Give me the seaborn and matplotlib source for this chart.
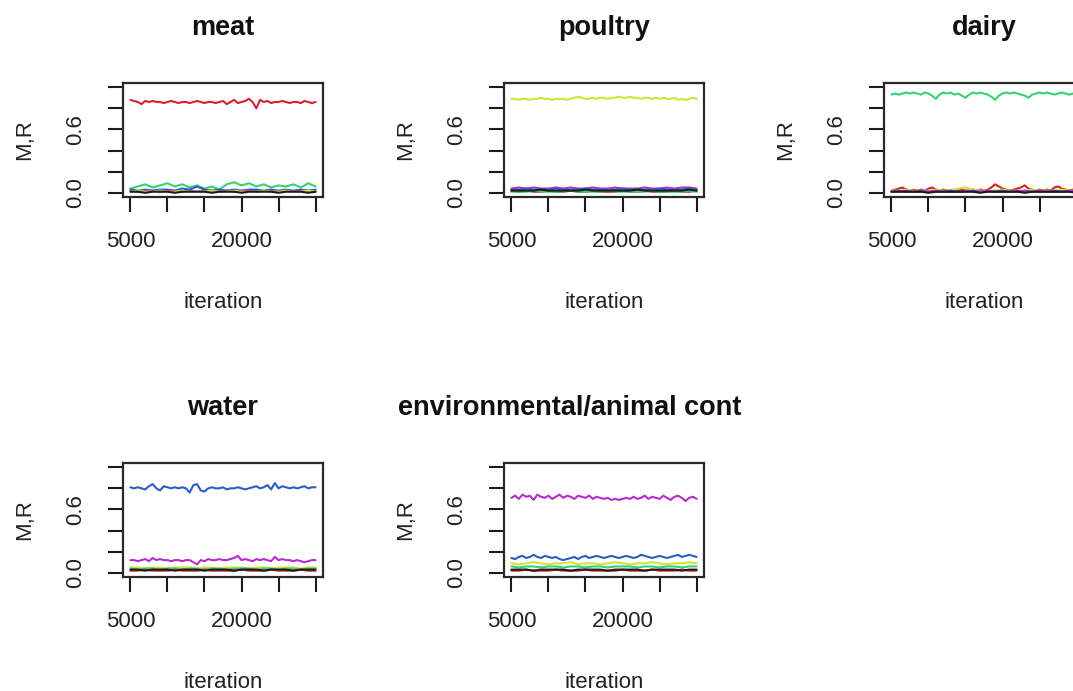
import matplotlib
matplotlib.use("Agg")
import matplotlib.pyplot as plt
import seaborn as sns
import numpy as np
import pandas as pd

sns.set_style("ticks")
plt.rcParams["font.family"] = ["Liberation Sans", "DejaVu Sans"]

# --------------------------------------------------
# Trace values (M,R), iterations 5000 .. 30000
# --------------------------------------------------

MEAT_RED = [0.88, 0.87, 0.86, 0.84, 0.87, 0.86, 0.87, 0.86, 0.86, 0.85,
            0.86, 0.87, 0.86, 0.85, 0.86, 0.86, 0.85, 0.86, 0.87, 0.86,
            0.85, 0.86, 0.86, 0.85, 0.86, 0.87, 0.84, 0.86, 0.88, 0.85,
            0.86, 0.87, 0.89, 0.86, 0.80, 0.88, 0.86, 0.87, 0.85, 0.86,
            0.86, 0.87, 0.86, 0.85, 0.86, 0.86, 0.85, 0.87, 0.86, 0.85, 0.86]
MEAT_GREEN = [0.04, 0.06, 0.08, 0.05, 0.07, 0.09, 0.06, 0.08, 0.05, 0.07, 0.04, 0.06, 0.03,
              0.08, 0.10, 0.07, 0.09, 0.06, 0.08, 0.05, 0.07, 0.06, 0.08, 0.05, 0.09, 0.06]
MEAT_BLUE = [0.03, 0.02, 0.03, 0.02, 0.03, 0.03, 0.02, 0.04, 0.03, 0.06, 0.03, 0.02, 0.03,
             0.02, 0.03, 0.02, 0.03, 0.03, 0.02, 0.03, 0.02, 0.03, 0.02, 0.03, 0.02, 0.03]
MEAT_MAGENTA = [0.02, 0.01, 0.02, 0.02, 0.01, 0.02, 0.02, 0.01, 0.02, 0.01, 0.02, 0.02, 0.01,
                0.02, 0.01, 0.02, 0.02, 0.01, 0.02, 0.02, 0.01, 0.02, 0.01, 0.02, 0.02, 0.01]
MEAT_YELLOW = [0.01, 0.02, 0.01, 0.01, 0.02, 0.01, 0.01, 0.02, 0.01, 0.01, 0.01, 0.02, 0.01,
               0.01, 0.02, 0.01, 0.01, 0.01, 0.02, 0.01, 0.01, 0.02, 0.01, 0.01, 0.02, 0.01]
MEAT_BLACK = [0.01, 0.01, 0.00, 0.01, 0.01, 0.01, 0.00, 0.01, 0.01, 0.01, 0.01, 0.00, 0.01,
              0.01, 0.01, 0.00, 0.01, 0.01, 0.01, 0.01, 0.00, 0.01, 0.01, 0.01, 0.00, 0.01]

POULTRY_YELLOW = [0.89, 0.89, 0.88, 0.89, 0.89, 0.88, 0.89, 0.89, 0.90, 0.89,
                  0.89, 0.88, 0.89, 0.89, 0.89, 0.88, 0.89, 0.90, 0.91, 0.90,
                  0.89, 0.89, 0.90, 0.89, 0.90, 0.90, 0.89, 0.90, 0.90, 0.91,
                  0.90, 0.90, 0.91, 0.90, 0.90, 0.89, 0.90, 0.90, 0.89, 0.90,
                  0.89, 0.90, 0.89, 0.89, 0.90, 0.88, 0.89, 0.88, 0.89, 0.90, 0.89]
POULTRY_MAGENTA = [0.04, 0.05, 0.04, 0.05, 0.04, 0.04, 0.05, 0.04, 0.05, 0.04, 0.04, 0.05, 0.04,
                   0.04, 0.05, 0.04, 0.04, 0.04, 0.05, 0.04, 0.04, 0.05, 0.04, 0.05, 0.05, 0.04]
POULTRY_BLUE = [0.03, 0.03, 0.04, 0.03, 0.03, 0.03, 0.04, 0.03, 0.03, 0.03, 0.04, 0.03, 0.03,
                0.03, 0.03, 0.04, 0.03, 0.03, 0.03, 0.03, 0.04, 0.03, 0.03, 0.03, 0.04, 0.03]
POULTRY_RED = [0.02, 0.01, 0.02, 0.01, 0.01, 0.02, 0.01, 0.01, 0.02, 0.01, 0.01, 0.02, 0.01,
               0.01, 0.01, 0.02, 0.01, 0.01, 0.02, 0.01, 0.01, 0.01, 0.02, 0.01, 0.01, 0.02]
POULTRY_GREEN = [0.01, 0.01, 0.01, 0.02, 0.01, 0.01, 0.01, 0.01, 0.02, 0.01, 0.01, 0.01, 0.01,
                 0.02, 0.01, 0.01, 0.01, 0.01, 0.01, 0.02, 0.01, 0.01, 0.01, 0.01, 0.02, 0.01]
POULTRY_BLACK = [0.02, 0.02, 0.02, 0.02, 0.03, 0.02, 0.02, 0.02, 0.02, 0.02, 0.03, 0.02, 0.02,
                 0.02, 0.02, 0.02, 0.02, 0.03, 0.02, 0.02, 0.02, 0.02, 0.02, 0.02, 0.03, 0.02]

DAIRY_GREEN = [0.93, 0.94, 0.93, 0.94, 0.95, 0.94, 0.95, 0.94, 0.93, 0.95,
               0.94, 0.92, 0.89, 0.93, 0.95, 0.94, 0.95, 0.93, 0.94, 0.92,
               0.90, 0.93, 0.95, 0.94, 0.95, 0.94, 0.93, 0.91, 0.88, 0.92,
               0.94, 0.95, 0.94, 0.95, 0.94, 0.93, 0.92, 0.90, 0.93, 0.94,
               0.95, 0.94, 0.95, 0.94, 0.93, 0.94, 0.95, 0.94, 0.93, 0.94, 0.94]
DAIRY_RED = [0.02, 0.03, 0.04, 0.05, 0.03, 0.02, 0.03, 0.02, 0.03, 0.02,
             0.04, 0.05, 0.03, 0.02, 0.03, 0.02, 0.02, 0.03, 0.02, 0.03,
             0.02, 0.02, 0.03, 0.02, 0.03, 0.02, 0.03, 0.05, 0.08, 0.06,
             0.04, 0.03, 0.02, 0.03, 0.04, 0.05, 0.07, 0.04, 0.03, 0.02,
             0.03, 0.02, 0.03, 0.02, 0.05, 0.06, 0.04, 0.03, 0.02, 0.03, 0.02]
DAIRY_YELLOW = [0.02, 0.02, 0.03, 0.02, 0.02, 0.02, 0.03, 0.02, 0.02, 0.04, 0.05, 0.03, 0.02,
                0.02, 0.02, 0.03, 0.02, 0.02, 0.02, 0.03, 0.02, 0.02, 0.02, 0.03, 0.02, 0.02]
DAIRY_BLUE = [0.01, 0.02, 0.01, 0.01, 0.02, 0.01, 0.01, 0.01, 0.02, 0.01, 0.01, 0.02, 0.01,
              0.01, 0.01, 0.02, 0.01, 0.01, 0.02, 0.01, 0.01, 0.01, 0.02, 0.01, 0.01, 0.02]
DAIRY_MAGENTA = [0.01, 0.01, 0.02, 0.01, 0.01, 0.01, 0.02, 0.01, 0.01, 0.01, 0.02, 0.01, 0.01,
                 0.02, 0.01, 0.01, 0.01, 0.02, 0.01, 0.01, 0.02, 0.01, 0.01, 0.01, 0.02, 0.01]
DAIRY_BLACK = [0.01, 0.01, 0.01, 0.01, 0.01, 0.00, 0.01, 0.01, 0.01, 0.01, 0.01, 0.01, 0.00,
               0.01, 0.01, 0.01, 0.01, 0.01, 0.00, 0.01, 0.01, 0.01, 0.01, 0.01, 0.01, 0.00]

WATER_BLUE = [0.81, 0.80, 0.81, 0.80, 0.79, 0.82, 0.84, 0.80, 0.78, 0.82,
              0.81, 0.80, 0.81, 0.80, 0.81, 0.80, 0.76, 0.83, 0.84, 0.78,
              0.77, 0.80, 0.81, 0.80, 0.80, 0.81, 0.79, 0.80, 0.80, 0.81,
              0.80, 0.79, 0.80, 0.81, 0.82, 0.80, 0.81, 0.83, 0.79, 0.85,
              0.80, 0.82, 0.81, 0.80, 0.81, 0.80, 0.81, 0.82, 0.80, 0.81, 0.81]
WATER_MAGENTA = [0.12, 0.12, 0.11, 0.12, 0.13, 0.11, 0.14, 0.12, 0.13, 0.12,
                 0.12, 0.11, 0.12, 0.12, 0.11, 0.12, 0.12, 0.10, 0.08, 0.12,
                 0.11, 0.13, 0.12, 0.12, 0.13, 0.12, 0.12, 0.13, 0.14, 0.16,
                 0.12, 0.13, 0.12, 0.11, 0.13, 0.12, 0.13, 0.12, 0.11, 0.15,
                 0.12, 0.13, 0.12, 0.12, 0.11, 0.12, 0.11, 0.10, 0.11, 0.12, 0.12]
WATER_YELLOW = [0.05, 0.05, 0.04, 0.05, 0.05, 0.04, 0.05, 0.05, 0.05, 0.04, 0.05, 0.05, 0.04,
                0.05, 0.05, 0.05, 0.04, 0.05, 0.05, 0.04, 0.05, 0.05, 0.05, 0.04, 0.05, 0.05]
WATER_GREEN = [0.04, 0.03, 0.04, 0.04, 0.03, 0.04, 0.04, 0.03, 0.04, 0.04, 0.03, 0.04, 0.04,
               0.03, 0.04, 0.04, 0.04, 0.03, 0.04, 0.04, 0.03, 0.04, 0.04, 0.03, 0.04, 0.04]
WATER_RED = [0.02, 0.02, 0.03, 0.02, 0.02, 0.02, 0.03, 0.02, 0.02, 0.02, 0.03, 0.02, 0.02,
             0.02, 0.02, 0.03, 0.02, 0.02, 0.02, 0.03, 0.02, 0.02, 0.02, 0.03, 0.02, 0.02]
WATER_BLACK = [0.03, 0.03, 0.02, 0.03, 0.03, 0.03, 0.02, 0.03, 0.03, 0.03, 0.02, 0.03, 0.03,
               0.03, 0.02, 0.03, 0.03, 0.03, 0.02, 0.03, 0.03, 0.03, 0.02, 0.03, 0.03, 0.03]

ENV_MAGENTA = [0.71, 0.73, 0.70, 0.74, 0.72, 0.73, 0.69, 0.74, 0.72, 0.71,
               0.73, 0.70, 0.72, 0.74, 0.71, 0.73, 0.72, 0.70, 0.73, 0.72,
               0.71, 0.73, 0.70, 0.72, 0.71, 0.70, 0.71, 0.69, 0.70, 0.69,
               0.70, 0.71, 0.70, 0.72, 0.70, 0.71, 0.73, 0.70, 0.72, 0.71,
               0.70, 0.73, 0.71, 0.69, 0.72, 0.73, 0.71, 0.68, 0.71, 0.72, 0.70]
ENV_BLUE = [0.14, 0.13, 0.15, 0.16, 0.14, 0.15, 0.17, 0.15, 0.14, 0.16,
            0.15, 0.14, 0.15, 0.13, 0.12, 0.13, 0.14, 0.15, 0.13, 0.15,
            0.16, 0.14, 0.15, 0.16, 0.15, 0.14, 0.15, 0.16, 0.15, 0.14,
            0.15, 0.16, 0.15, 0.14, 0.15, 0.17, 0.16, 0.15, 0.14, 0.15,
            0.16, 0.15, 0.14, 0.15, 0.16, 0.17, 0.15, 0.16, 0.17, 0.16, 0.15]
ENV_YELLOW = [0.09, 0.08, 0.09, 0.10, 0.09, 0.08, 0.09, 0.09, 0.10, 0.08, 0.09, 0.09, 0.08,
              0.09, 0.10, 0.09, 0.08, 0.09, 0.09, 0.10, 0.09, 0.08, 0.09, 0.09, 0.10, 0.09]
ENV_GREEN = [0.06, 0.05, 0.06, 0.06, 0.05, 0.06, 0.06, 0.05, 0.06, 0.06, 0.05, 0.06, 0.06,
             0.05, 0.06, 0.06, 0.06, 0.05, 0.06, 0.06, 0.05, 0.06, 0.06, 0.05, 0.06, 0.06]
ENV_RED = [0.02, 0.02, 0.03, 0.02, 0.02, 0.02, 0.03, 0.02, 0.02, 0.02, 0.03, 0.02, 0.02,
           0.02, 0.02, 0.03, 0.02, 0.02, 0.02, 0.03, 0.02, 0.02, 0.02, 0.03, 0.02, 0.02]
ENV_BLACK = [0.03, 0.03, 0.03, 0.02, 0.03, 0.03, 0.03, 0.03, 0.02, 0.03, 0.03, 0.03, 0.03,
             0.02, 0.03, 0.03, 0.03, 0.03, 0.02, 0.03, 0.03, 0.03, 0.03, 0.02, 0.03, 0.03]

PANEL_TITLES = ["meat", "poultry", "dairy", "water", "environmental/animal cont"]

X_TICKS = [5000, 10000, 15000, 20000, 25000, 30000]
X_TICK_LABELS = ["5000", "", "", "20000", "", ""]
Y_TICKS = [0.0, 0.2, 0.4, 0.6, 0.8, 1.0]
Y_TICK_LABELS = ["0.0", "", "", "0.6", "", ""]

# rainbow(5) + black, slightly darkened like the blurred original
PALETTE = {"red": "#d8202e", "yellow": "#cce63a", "green": "#36d173",
           "blue": "#2c5cc6", "magenta": "#b52dcc", "black": "#1c1c1c"}

panel_series = [
    {"green": MEAT_GREEN, "blue": MEAT_BLUE, "magenta": MEAT_MAGENTA,
     "yellow": MEAT_YELLOW, "black": MEAT_BLACK, "red": MEAT_RED},
    {"magenta": POULTRY_MAGENTA, "blue": POULTRY_BLUE, "red": POULTRY_RED,
     "green": POULTRY_GREEN, "black": POULTRY_BLACK, "yellow": POULTRY_YELLOW},
    {"red": DAIRY_RED, "yellow": DAIRY_YELLOW, "blue": DAIRY_BLUE,
     "magenta": DAIRY_MAGENTA, "black": DAIRY_BLACK, "green": DAIRY_GREEN},
    {"magenta": WATER_MAGENTA, "yellow": WATER_YELLOW, "green": WATER_GREEN,
     "red": WATER_RED, "black": WATER_BLACK, "blue": WATER_BLUE},
    {"blue": ENV_BLUE, "yellow": ENV_YELLOW, "green": ENV_GREEN,
     "red": ENV_RED, "black": ENV_BLACK, "magenta": ENV_MAGENTA},
]

W, H = 1073, 691
# plot boxes in pixels: left, top
boxes = [(123, 83), (504, 83), (884, 83), (123, 463), (504, 463)]
BOX_W, BOX_H = 200, 114

fig = plt.figure(figsize=(W / 100, H / 100), dpi=100)


def draw_panel(ax, series):
    frames = []
    for name, vals in series.items():
        frames.append(pd.DataFrame({
            "iteration": np.linspace(5000, 30000, len(vals)),
            "value": vals,
            "source": name,
        }))
    df = pd.concat(frames, ignore_index=True)
    sns.lineplot(data=df, x="iteration", y="value", hue="source",
                 hue_order=list(series.keys()), palette=PALETTE,
                 estimator=None, sort=False, legend=False,
                 linewidth=1.5, ax=ax)

    ax.set_xlim(4000, 31000)
    ax.set_ylim(-0.04, 1.04)
    ax.set_xticks(X_TICKS)
    ax.set_xticklabels(X_TICK_LABELS)
    ax.set_yticks(Y_TICKS)
    ax.set_yticklabels(Y_TICK_LABELS)
    for lab in ax.get_yticklabels():
        lab.set_rotation(90)
        lab.set_va("center")

    for sp in ax.spines.values():
        sp.set_visible(True)
        sp.set_linewidth(1.6)
        sp.set_color("#2a2a2a")
    ax.tick_params(axis="both", direction="out", length=10.5, width=1.5,
                   color="#1a1a1a", labelsize=16, labelcolor="#222222")
    ax.tick_params(axis="x", pad=14)
    ax.tick_params(axis="y", pad=16)

    ax.set_xlabel("iteration", fontsize=16, color="#222222")
    ax.set_ylabel("M,R", fontsize=16, color="#222222")
    ax.xaxis.set_label_coords(0.5, -105 / BOX_H)
    ax.xaxis.label.set_va("center")
    ax.yaxis.set_label_coords(-98 / BOX_W, 0.5)
    ax.yaxis.label.set_va("center")


for (left, top), series, title in zip(boxes, panel_series, PANEL_TITLES):
    ax = fig.add_axes([left / W, 1 - (top + BOX_H) / H, BOX_W / W, BOX_H / H])
    draw_panel(ax, series)
    ty = 1 - (top - 55) / H
    if title.startswith("environmental"):
        fig.text(398 / W, ty, title, ha="left", va="center",
                 fontsize=19.5, fontweight="bold", color="#111111")
    else:
        fig.text((left + BOX_W / 2) / W, ty, title, ha="center", va="center",
                 fontsize=19.5, fontweight="bold", color="#111111")

fig.savefig("out.png", dpi=100)
